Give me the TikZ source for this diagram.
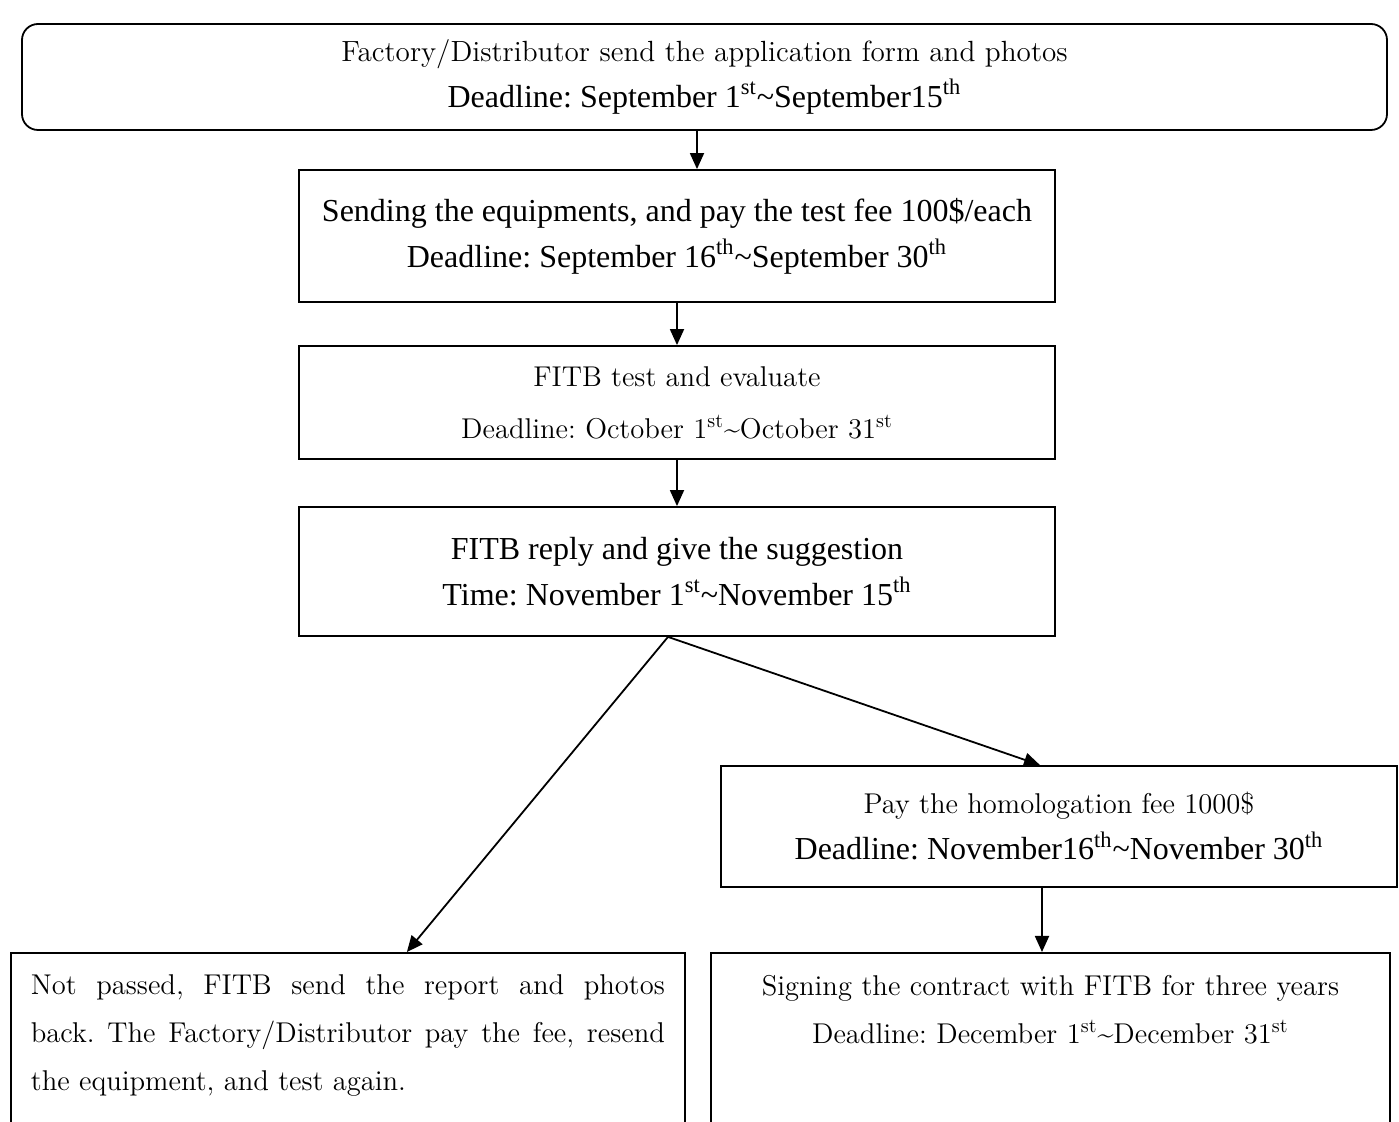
\documentclass[tikz,border=0pt]{standalone}
\usepackage{fontspec}
\newfontfamily\tms{Liberation Serif}
\usetikzlibrary{calc, arrows.meta}
\newcommand{\garam}{\fontsize{14.3}{23}\selectfont}
\newcommand{\tiempo}{\tms\fontsize{16}{23}\selectfont}

\begin{document}
\frenchspacing
\begin{tikzpicture}[
    x=0.5pt, y=-0.5pt,
    caja/.style={draw, line width=0.9pt, align=center, inner sep=0pt},
    cajaRedonda/.style={caja, rounded corners=8pt},
    cajaBaja/.style={caja, anchor=north west, inner xsep=10pt, inner ysep=11pt, text depth=200pt},
    flecha/.style={-{Triangle[length=8pt, width=7pt]}, line width=0.9pt}
]
    \useasboundingbox (0,0) rectangle (1399,1122);
    \clip (0,0) rectangle (1399,1122);

    % --- SOLICITUD ---
    \node[cajaRedonda, minimum width=682.5pt, minimum height=53pt, font=\fontsize{14.6}{23}\selectfont] (solicitud) at (704.5,77)
        {Factory/Distributor send the application form and photos\\
         {\tiempo Deadline: September 1\textsuperscript{st}\textasciitilde September15\textsuperscript{th}}};

    % --- ENVIO Y PAGO DE PRUEBA ---
    \node[caja, minimum width=378pt, minimum height=66pt, font=\tiempo] (envio) at (677,236)
        {Sending the equipments, and pay the test fee 100\$/each\\
         Deadline: September 16\textsuperscript{th}\textasciitilde September 30\textsuperscript{th}};

    % --- PRUEBA ---
    \node[caja, minimum width=378pt, minimum height=56.5pt, font=\garam] (prueba) at (677,402.5)
        {FITB test and evaluate\\[3pt]
         Deadline: October 1\textsuperscript{st}\textasciitilde October 31\textsuperscript{st}};

    % --- RESPUESTA ---
    \node[caja, minimum width=378pt, minimum height=64.5pt, font=\tiempo] (respuesta) at (677,571.5)
        {FITB reply and give the suggestion\\
         Time: November 1\textsuperscript{st}\textasciitilde November 15\textsuperscript{th}};

    % --- PAGO ---
    \node[caja, minimum width=338pt, minimum height=60.5pt, font=\garam] (pago) at (1059,826.5)
        {Pay the homologation fee 1000\$\\
         {\tiempo Deadline: November16\textsuperscript{th}\textasciitilde November 30\textsuperscript{th}}};

    % --- RECHAZO ---
    \node[cajaBaja, text width=317pt, align=justify, font=\fontsize{14.3}{24}\selectfont] (rechazo) at (10,952)
        {Not passed, FITB send the report and photos\linebreak
         back. The Factory/Distributor pay the fee, resend\linebreak
         the equipment, and test again.};

    % --- CONTRATO ---
    \node[cajaBaja, text width=319.5pt, font=\fontsize{14.3}{24}\selectfont] (contrato) at (710,952)
        {Signing the contract with FITB for three years\\
         Deadline: December 1\textsuperscript{st}\textasciitilde December 31\textsuperscript{st}};

    % --- FLECHAS ---
    \coordinate (f1) at ([xshift=10pt]envio.north);
    \coordinate (sal) at ([xshift=-4.5pt]respuesta.south);
    \coordinate (f2) at ([xshift=-8.5pt]pago.south);
    \draw[flecha] (f1 |- solicitud.south) -- (f1);
    \draw[flecha] (envio.south) -- (prueba.north);
    \draw[flecha] (prueba.south) -- (respuesta.north);
    \draw[flecha] (sal) -- ([xshift=29.5pt]rechazo.north);
    \draw[flecha] (sal) -- ([xshift=-9.5pt]pago.north);
    \draw[flecha] (f2) -- (f2 |- contrato.north);

\end{tikzpicture}
\end{document}
